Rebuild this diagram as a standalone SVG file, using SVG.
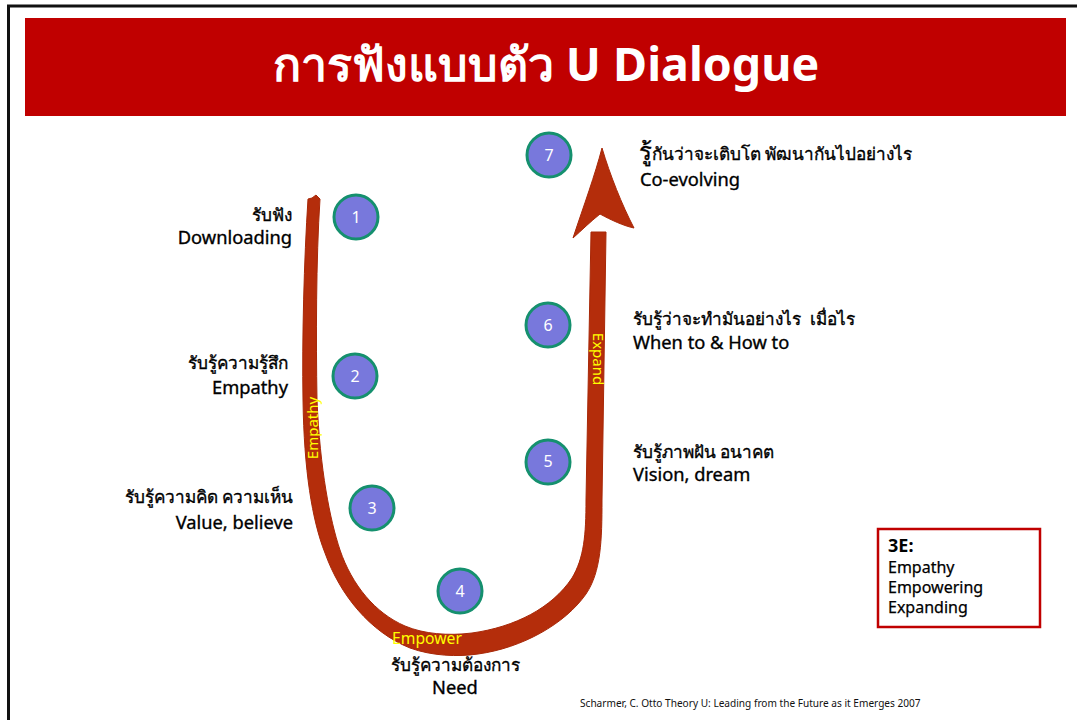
<svg xmlns="http://www.w3.org/2000/svg" width="1077" height="720" viewBox="0 0 1077 720">
  <defs>
    <style>
      .th { font-family: "Noto Sans", "Liberation Sans", sans-serif; font-size: 17.2px; fill: #000; stroke: #000; stroke-width: 0.35px; }
      .en { font-family: "Noto Sans", "Liberation Sans", sans-serif; font-size: 18.3px; fill: #000; stroke: #000; stroke-width: 0.35px; }
      .big { font-size: 24px; }
      .num { font-family: "Noto Sans", "Liberation Sans", sans-serif; font-size: 16px; fill: #fff; text-anchor: middle; }
      .step circle { fill: #7878DC; stroke: #15906E; stroke-width: 3; }
      .tag { font-family: "Noto Sans", "Liberation Sans", sans-serif; fill: #FFFF00; font-size: 15px; }
      .u { fill: #B42D0B; stroke: #A82808; stroke-width: 1; stroke-linejoin: round; }
      .box { font-family: "Noto Sans", "Liberation Sans", sans-serif; font-size: 16px; fill: #000; stroke: #000; stroke-width: 0.25px; }
      .boxhead { font-family: "Noto Sans", "Liberation Sans", sans-serif; font-size: 18px; font-weight: bold; fill: #000; }
    </style>
  </defs>

  <rect width="1077" height="720" fill="#fff"/>
  <!-- slide frame -->
  <rect x="8.5" y="6" width="1100" height="800" fill="none" stroke="#111" stroke-width="3"/>

  <!-- title banner -->
  <g id="title">
    <rect x="25" y="18" width="1041" height="98" fill="#C00000"/>
    <text x="546" y="81" text-anchor="middle" font-family="Noto Sans, Liberation Sans, sans-serif" font-size="46.5" font-weight="bold" fill="#fff">การฟังแบบตัว U Dialogue</text>
  </g>

  <!-- U-shaped arrow -->
  <g id="connectors">
    <path class="u" d="M308 199 C304 260 302 340 303 400 C304 470 312 520 325 553 C340 595 370 632 410 648 C432 656 458 657 478 654 C522 648 565 624 586 594 C601 572 602 540 602 500 L606 232 L591 232 L586 500 C586 535 584 558 572 578 C552 608 515 627 472 633 C448 636 424 634 405 626 C375 613 352 585 340 550 C330 520 320 470 317 400 C316 340 316 260 320 199 L316 195 L312 198 Z"/>
    <path class="u" stroke-width="2" d="M602 148 C610 175 622 205 634 228 C624 226 611 220 600 214 C590 222 582 230 573 238 C584 205 595 175 602 148 Z"/>
    <text class="tag" transform="translate(318 428) rotate(-90)" text-anchor="middle">Empathy</text>
    <text class="tag" transform="translate(593 359) rotate(90)" text-anchor="middle">Expand</text>
    <text class="tag" x="427" y="644" text-anchor="middle" style="font-size:15.7px">Empower</text>
  </g>

  <!-- numbered stages -->
  <g id="step1" class="step"><circle cx="356" cy="217" r="22"/><text class="num" x="356" y="223">1</text></g>
  <g id="step2" class="step"><circle cx="355" cy="376" r="22"/><text class="num" x="355" y="382">2</text></g>
  <g id="step3" class="step"><circle cx="372" cy="508" r="22"/><text class="num" x="372" y="514">3</text></g>
  <g id="step4" class="step"><circle cx="460" cy="591" r="22"/><text class="num" x="460" y="597">4</text></g>
  <g id="step5" class="step"><circle cx="548" cy="462" r="22"/><text class="num" x="548" y="467">5</text></g>
  <g id="step6" class="step"><circle cx="548" cy="325" r="22"/><text class="num" x="548" y="331">6</text></g>
  <g id="step7" class="step"><circle cx="549" cy="155" r="22"/><text class="num" x="549" y="161">7</text></g>

  <!-- stage captions -->
  <g id="label1" text-anchor="end">
    <text class="th" x="292" y="221">รับฟัง</text>
    <text class="en" x="292" y="244">Downloading</text>
  </g>
  <g id="label2" text-anchor="end">
    <text class="th" x="288" y="369">รับรู้ความรู้สึก</text>
    <text class="en" x="288" y="394">Empathy</text>
  </g>
  <g id="label3" text-anchor="end">
    <text class="th" x="293" y="503">รับรู้ความคิด ความเห็น</text>
    <text class="en" x="293" y="529">Value, believe</text>
  </g>
  <g id="label4" text-anchor="middle">
    <text class="th" x="455" y="671">รับรู้ความต้องการ</text>
    <text class="en" x="455" y="694">Need</text>
  </g>
  <g id="label5">
    <text class="th" x="633" y="458">รับรู้ภาพฝัน อนาคต</text>
    <text class="en" x="633" y="481">Vision, dream</text>
  </g>
  <g id="label6">
    <text class="th" x="633" y="325" xml:space="preserve">รับรู้ว่าจะทำมันอย่างไร  เมื่อไร</text>
    <text class="en" x="633" y="349">When to &amp; How to</text>
  </g>
  <g id="label7">
    <text class="th" x="639" y="160"><tspan class="big">รู้</tspan>กันว่าจะเติบโต พัฒนากันไปอย่างไร</text>
    <text class="en" x="640" y="186">Co-evolving</text>
  </g>

  <!-- 3E legend -->
  <g id="legend">
    <rect x="878" y="529" width="162" height="98" fill="#fff" stroke="#C00000" stroke-width="2.5"/>
    <text class="boxhead" x="888" y="552">3E:</text>
    <text class="box" x="888" y="573">Empathy</text>
    <text class="box" x="888" y="593">Empowering</text>
    <text class="box" x="888" y="613">Expanding</text>
  </g>

  <!-- citation -->
  <text id="citation" x="580" y="707" font-family="Noto Sans, Liberation Sans, sans-serif" font-size="10.1" fill="#111">Scharmer, C. Otto Theory U: Leading from the Future as it Emerges 2007</text>
</svg>
